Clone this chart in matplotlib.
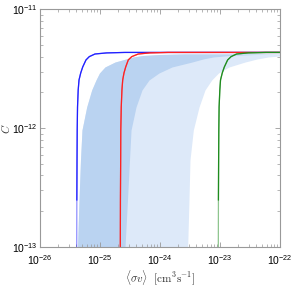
import numpy as np
import matplotlib
matplotlib.use("Agg")
import matplotlib.pyplot as plt

plt.rcParams['font.family'] = ['Liberation Sans', 'DejaVu Sans']

# band boundaries, read at common C levels
band_C = [1e-13, 2.49e-13, 5.41e-13, 9.66e-13, 1.51e-12, 2.10e-12, 2.55e-12, 2.92e-12,
          3.28e-12, 3.61e-12, 3.83e-12, 3.98e-12, 4.10e-12, 4.18e-12, 4.23e-12]
dark_left = [4.22e-26, 4.47e-26, 4.73e-26, 5.01e-26, 6.00e-26, 7.27e-26, 8.58e-26, 9.81e-26,
             1.21e-25, 1.78e-25, 2.71e-25, 3.55e-25, 5.21e-25, 1.00e-24, 2.61e-24]
dark_right = [2.61e-25, 2.87e-25, 3.10e-25, 3.29e-25, 3.98e-25, 5.01e-25, 6.56e-25, 9.63e-25,
              1.58e-24, 3.41e-24, 5.21e-24, 7.65e-24, 1.47e-23, 3.83e-23, 1.21e-22]
light_right = [2.89e-24, 3.04e-24, 3.16e-24, 3.59e-24, 4.47e-24, 5.62e-24, 7.27e-24, 9.44e-24,
               1.41e-23, 2.61e-23, 4.14e-23, 6.31e-23, 1.21e-22, 2.15e-22, 4.64e-22]

# curves
curve_C = [1e-13, 2.49e-13, 5.41e-13, 9.66e-13, 1.51e-12, 2.10e-12, 2.55e-12, 2.92e-12,
           3.28e-12, 3.76e-12, 4.01e-12, 4.22e-12, 4.31e-12, 4.35e-12, 4.35e-12]
blue_sv = [4.09e-26, 4.11e-26, 4.14e-26, 4.17e-26, 4.22e-26, 4.33e-26, 4.47e-26, 4.77e-26,
           5.15e-26, 5.84e-26, 6.63e-26, 8.25e-26, 1.29e-25, 2.61e-25, 1e-22]
red_sv = [2.18e-25, 2.19e-25, 2.21e-25, 2.22e-25, 2.26e-25, 2.32e-25, 2.39e-25, 2.51e-25,
          2.68e-25, 2.96e-25, 3.38e-25, 4.35e-25, 6.81e-25, 1.36e-24, 1e-22]
green_sv = [9.37e-24, 9.41e-24, 9.48e-24, 9.55e-24, 9.66e-24, 9.93e-24, 1.02e-23, 1.09e-23,
            1.18e-23, 1.34e-23, 1.53e-23, 1.89e-23, 2.96e-23, 5.85e-23, 1e-22]

fig = plt.figure(figsize=(2.95, 2.87), dpi=100)
ax = fig.add_axes([0.1356, 0.1394, 0.8136, 0.8275])

ax.fill_betweenx(band_C, dark_left, light_right, color='#dde9f9', lw=0)
ax.fill_betweenx(band_C, dark_left, dark_right, color='#bad3f1', lw=0)

C = np.array(curve_C)
for sv, col, cut in [(blue_sv, '#2020ff', 2.4e-13), (red_sv, '#ff2020', 1e-13), (green_sv, '#1e8c1e', 2.4e-13)]:
    sv = np.array(sv)
    ax.plot(sv, C, color=col, lw=0.9, alpha=0.5)
    m = C >= cut
    ax.plot(sv[m], C[m], color=col, lw=0.9)

ax.set_xscale('log')
ax.set_yscale('log')
ax.set_xlim(1e-26, 1e-22)
ax.set_ylim(1e-13, 1e-11)
ax.set_xticks([1e-26, 1e-25, 1e-24, 1e-23, 1e-22])
ax.set_yticks([1e-13, 1e-12, 1e-11])

for s in ax.spines.values():
    s.set_color('#999999')
    s.set_linewidth(0.8)
ax.tick_params(which='both', direction='in', top=True, right=True, color='#999999', labelsize=7.5)
ax.tick_params(which='major', length=3.5, width=0.6)
ax.tick_params(which='minor', length=2, width=0.5)
ax.tick_params(axis='x', pad=4.5)
ax.tick_params(axis='y', pad=2)

ax.set_xlabel(r'$\langle\sigma v\rangle\ \ [\mathrm{cm}^3\mathrm{s}^{-1}]$', fontsize=8,
              color='#333333', labelpad=1, math_fontfamily='cm')
ax.set_ylabel(r'$C$', fontsize=8, color='#333333', math_fontfamily='cm')
ax.yaxis.set_label_coords(-0.118, 0.5)

fig.savefig('out.png', dpi=100)
